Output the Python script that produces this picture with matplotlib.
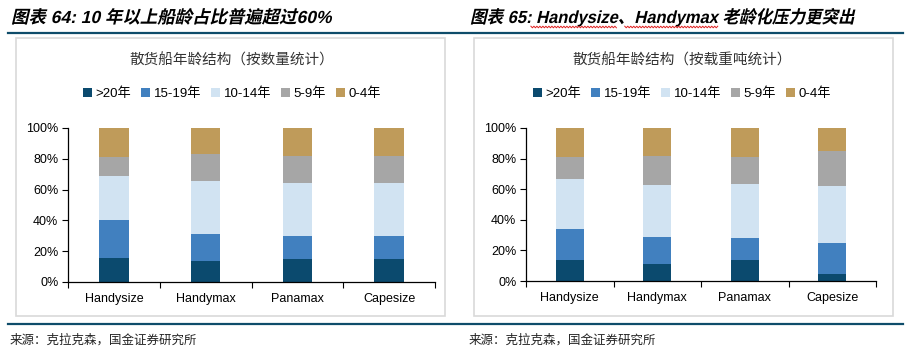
import numpy as np
import matplotlib
matplotlib.use("Agg")
import matplotlib.pyplot as plt
from matplotlib.font_manager import FontProperties
from matplotlib.textpath import TextPath
from matplotlib.patches import PathPatch, Rectangle
from matplotlib.transforms import Affine2D
from matplotlib.lines import Line2D

plt.rcParams['font.family'] = ['Liberation Sans', 'Noto Sans CJK SC']

W, H = 910, 348

ship_types = ['Handysize', 'Handymax', 'Panamax', 'Capesize']
age_groups = ['>20年', '15-19年', '10-14年', '5-9年', '0-4年']
colors = ['#0B4A6E', '#4180BF', '#D1E3F2', '#A6A6A6', '#BF9B5A']

# 各年龄段占比（%），按数量统计
by_count = {
    '>20年':   [15.8, 13.6, 14.9, 14.9],
    '15-19年': [24.5, 17.6, 15.0, 15.0],
    '10-14年': [28.5, 34.4, 34.4, 34.4],
    '5-9年':   [12.4, 17.7, 17.7, 17.7],
    '0-4年':   [18.8, 16.7, 18.0, 18.0],
}

# 各年龄段占比（%），按载重吨统计
by_dwt = {
    '>20年':   [13.9, 11.3, 13.9, 4.8],
    '15-19年': [20.2, 17.6, 14.4, 20.2],
    '10-14年': [32.6, 33.9, 35.2, 37.2],
    '5-9年':   [14.4, 19.2, 17.6, 22.8],
    '0-4年':   [18.9, 18.0, 18.9, 15.0],
}

panel_titles = ['图表 64: 10 年以上船龄占比普遍超过60%',
                '图表 65: Handysize、Handymax 老龄化压力更突出']
chart_titles = ['散货船年龄结构（按数量统计）', '散货船年龄结构（按载重吨统计）']
source_text = '来源：克拉克森，国金证券研究所'

fig = plt.figure(figsize=(W / 100, H / 100), dpi=100)
fig.patch.set_facecolor('white')

# 像素坐标 -> figure 坐标
to_fig = Affine2D().scale(1 / W, 1 / H) + fig.transFigure
title_prop = FontProperties(family=['Liberation Sans', 'Noto Sans CJK SC'], weight='bold')
TITLE_SIZE = 17.5


def text_width(s, size=TITLE_SIZE):
    tp = TextPath((0, 0), s, size=size, prop=title_prop)
    return tp.get_extents().x1


def slanted_text(x, y, s, span, size=TITLE_SIZE):
    """斜体粗标题，x/y 为左侧基线的像素位置（y 自上而下），span 为总宽度"""
    tp = TextPath((0, 0), s, size=size, prop=title_prop)
    sx = span / tp.get_extents().x1
    tr = Affine2D().scale(sx, 1).skew_deg(13, 0).translate(x, H - y)
    fig.add_artist(PathPatch(tp, transform=tr + to_fig, facecolor='black', lw=0))
    return sx


def squiggle(x0, x1, y):
    xs = np.arange(x0, x1 + 0.1, 1.5)
    ys = H - y + np.where(np.arange(len(xs)) % 2 == 0, 0.8, -0.8)
    fig.add_artist(Line2D(xs / W, ys / H, transform=fig.transFigure,
                          color='#E02020', lw=0.7))


def hline(x0, x1, y, color, lw):
    fig.add_artist(Line2D([x0 / W, x1 / W], [1 - y / H, 1 - y / H],
                          transform=fig.transFigure, color=color, lw=lw))


def box(x0, y0, x1, y1):
    fig.add_artist(Rectangle((x0 / W, 1 - y1 / H), (x1 - x0) / W, (y1 - y0) / H,
                             transform=fig.transFigure, fill=False,
                             edgecolor='#D9D9D9', lw=1.2))


def draw_chart(ax, data):
    x = np.arange(len(ship_types))
    bottom = np.zeros(len(ship_types))
    for grp, c in zip(age_groups, colors):
        vals = np.array(data[grp]) / 100
        ax.bar(x, vals, width=0.32, bottom=bottom, color=c, label=grp, lw=0)
        bottom += vals
    ax.set_xlim(-0.5, len(ship_types) - 0.5)
    ax.set_ylim(0, 1)
    ax.set_yticks(np.linspace(0, 1, 6))
    ax.set_yticklabels([f'{int(v)}%' for v in np.linspace(0, 100, 6)], fontsize=9)
    ax.set_xticks(x)
    ax.set_xticklabels(ship_types, fontsize=9)
    ax.set_xticks(np.arange(-0.5, len(ship_types)), minor=True)
    ax.tick_params(axis='x', which='major', length=0, pad=8)
    ax.tick_params(axis='x', which='minor', length=4, direction='out', width=0.8)
    ax.tick_params(axis='y', length=4, width=0.8, direction='out', pad=3)
    for side in ['top', 'right']:
        ax.spines[side].set_visible(False)
    for side in ['left', 'bottom']:
        ax.spines[side].set_linewidth(0.9)


# 两个面板的位置（像素）
panels = [
    dict(title_x=11, title_w=320, box=(16, 38, 445, 316), ax=(68, 128, 435, 282),
         cx=232, src_x=10),
    dict(title_x=470, title_w=383, box=(474, 38, 893, 316), ax=(526, 128, 876, 281),
         cx=682, src_x=469),
]

scales = []
for i, (p, data) in enumerate(zip(panels, [by_count, by_dwt])):
    scales.append(slanted_text(p['title_x'], 23, panel_titles[i], p['title_w']))
    box(*p['box'])
    x0, y0, x1, y1 = p['ax']
    ax = fig.add_axes([x0 / W, 1 - y1 / H, (x1 - x0) / W, (y1 - y0) / H])
    draw_chart(ax, data)
    fig.text(p['cx'] / W, 1 - 60 / H, chart_titles[i], ha='center', va='center',
             fontsize=10.5, color='#333333', family=['Noto Sans CJK SC'])
    ax.legend(loc='center', bbox_to_anchor=(p['cx'] / W, 1 - 94 / H),
              bbox_transform=fig.transFigure, ncol=5, frameon=False,
              fontsize=9.5, handlelength=0.7, handleheight=0.7,
              handletextpad=0.3, columnspacing=0.7, borderpad=0)
    fig.text(p['src_x'] / W, 1 - 340 / H, source_text, ha='left', va='center',
             fontsize=9, color='#222222', family=['Noto Sans CJK SC'])

# 拼写检查波浪线
base, sx = panels[1]['title_x'], scales[1]
a = base + sx * text_width('图表 65: ') + 1
b = base + sx * text_width('图表 65: Handysize')
c = base + sx * text_width('图表 65: Handysize、') + 1
d = base + sx * text_width('图表 65: Handysize、Handymax')
squiggle(a, b, 27)
squiggle(c, d, 27)

hline(8, 903, 33, '#0E4C6A', 1.6)
hline(8, 903, 324, '#0E4C6A', 1.6)

fig.savefig('out.png', dpi=100, facecolor='white')
